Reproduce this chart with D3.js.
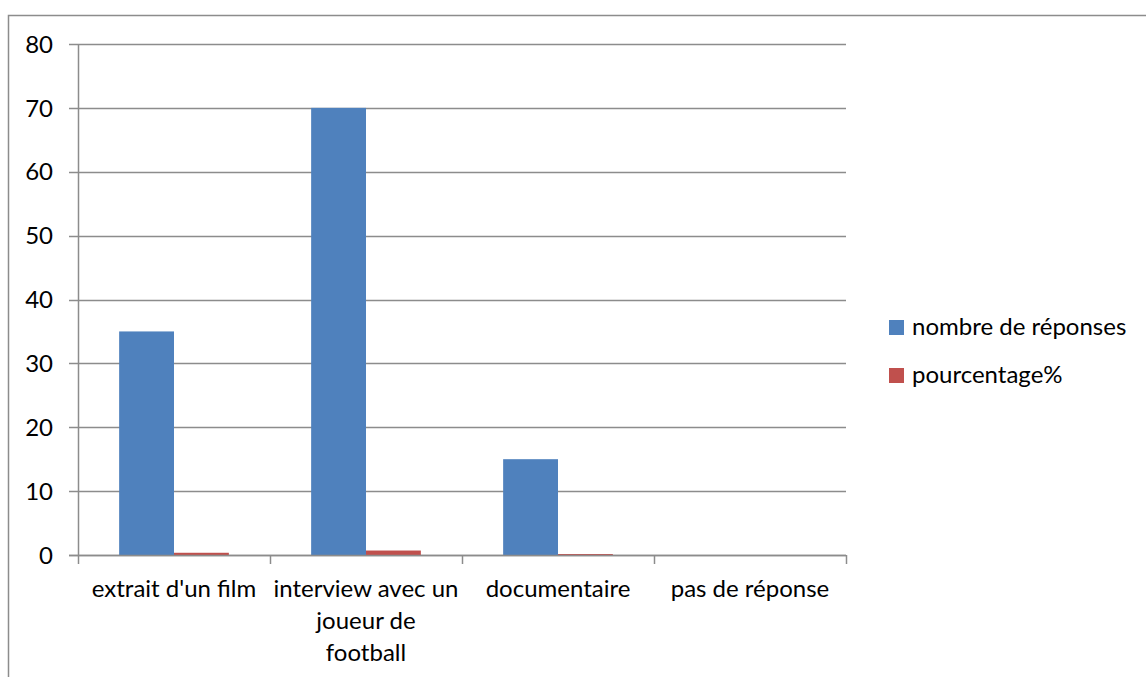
<!DOCTYPE html>
<html>
<head>
<meta charset="utf-8">
<script src="https://cdn.jsdelivr.net/npm/d3@7"></script>
<style>
  body { margin: 0; background: #fff; }
  text { font-family: Lato, "Open Sans", sans-serif; fill: #000; }
</style>
</head>
<body>
<script>
// chart data
const categories = ["extrait d'un film", "interview avec un joueur de football", "documentaire", "pas de réponse"];
const labelLines = [["extrait d'un film"], ["interview avec un", "joueur de", "football"], ["documentaire"], ["pas de réponse"]];
const seriesNames = ["nombre de réponses", "pourcentage%"];
const nombre = [35, 70, 15, 0];
const pourcentage = [0.35, 0.7, 0.15, 0];
const yTicks = [0, 10, 20, 30, 40, 50, 60, 70, 80];
const colors = ["#4f81bd", "#c0504d"];

const width = 1146, height = 677;
const margin = { left: 78, right: 300, top: 44, bottom: 122 };
const fs = 24;

const svg = d3.select("body").append("svg")
  .attr("width", width)
  .attr("height", height);

// outer frame
svg.append("rect")
  .attr("x", 8.5).attr("y", 15.5)
  .attr("width", 1160).attr("height", 700)
  .attr("fill", "none").attr("stroke", "#8c8c8c").attr("stroke-width", 1.5);

// each category slot, bars of the two series in the middle (Excel gap 150%)
const xs = d3.scaleBand()
  .domain(categories)
  .range([margin.left, width - margin.right])
  .padding(0);
const slot = xs.bandwidth();
const inner = d3.scaleBand()
  .domain(seriesNames)
  .range([0, slot])
  .paddingOuter(0.75)
  .paddingInner(0);

const y = d3.scaleLinear()
  .domain([0, 80])
  .range([height - margin.bottom, margin.top]);

// gridlines
svg.append("g")
  .selectAll("line")
  .data(yTicks)
  .join("line")
  .attr("x1", margin.left - 9)
  .attr("x2", width - margin.right)
  .attr("y1", d => Math.round(y(d)) + 0.5)
  .attr("y2", d => Math.round(y(d)) + 0.5)
  .attr("stroke", "#8c8c8c")
  .attr("stroke-width", 1.5);

// y tick labels
svg.append("g")
  .selectAll("text")
  .data(yTicks)
  .join("text")
  .attr("x", 53)
  .attr("y", d => y(d))
  .attr("dy", "0.36em")
  .attr("text-anchor", "end")
  .attr("font-size", fs)
  .text(d => d);

// bars
const series = [nombre, pourcentage];
series.forEach((vals, si) => {
  svg.append("g")
    .selectAll("rect")
    .data(vals)
    .join("rect")
    .attr("x", (d, i) => xs(categories[i]) + inner(seriesNames[si]))
    .attr("width", inner.bandwidth())
    .attr("y", d => y(d))
    .attr("height", d => y(0) - y(d))
    .attr("fill", colors[si]);
});

// axes lines
svg.append("line")
  .attr("x1", margin.left + 0.5).attr("x2", margin.left + 0.5)
  .attr("y1", margin.top).attr("y2", height - margin.bottom)
  .attr("stroke", "#8c8c8c").attr("stroke-width", 1.5);
svg.append("line")
  .attr("x1", margin.left - 9).attr("x2", width - margin.right)
  .attr("y1", Math.round(y(0)) + 0.5).attr("y2", Math.round(y(0)) + 0.5)
  .attr("stroke", "#8c8c8c").attr("stroke-width", 1.5);

// category ticks
const catTicks = categories.map(c => xs(c)).concat([width - margin.right]);
svg.append("g")
  .selectAll("line")
  .data(catTicks)
  .join("line")
  .attr("x1", d => Math.round(d) + 0.5)
  .attr("x2", d => Math.round(d) + 0.5)
  .attr("y1", y(0))
  .attr("y2", y(0) + 9)
  .attr("stroke", "#8c8c8c").attr("stroke-width", 1.5);

// category labels
const lab = svg.append("g")
  .selectAll("text")
  .data(categories)
  .join("text")
  .attr("text-anchor", "middle")
  .attr("font-size", fs)
  .attr("x", d => xs(d) + slot / 2)
  .attr("y", 597);
lab.selectAll("tspan")
  .data((d, i) => labelLines[i])
  .join("tspan")
  .attr("x", function () { return d3.select(this.parentNode).attr("x"); })
  .attr("dy", (d, i) => i === 0 ? 0 : 32)
  .text(d => d);

// legend
const leg = svg.append("g")
  .selectAll("g")
  .data(seriesNames)
  .join("g")
  .attr("transform", (d, i) => `translate(889, ${320 + i * 48})`);
leg.append("rect")
  .attr("width", 15).attr("height", 15)
  .attr("fill", (d, i) => colors[i]);
leg.append("text")
  .attr("x", 23).attr("y", 15)
  .attr("font-size", fs)
  .text(d => d);
</script>
</body>
</html>
